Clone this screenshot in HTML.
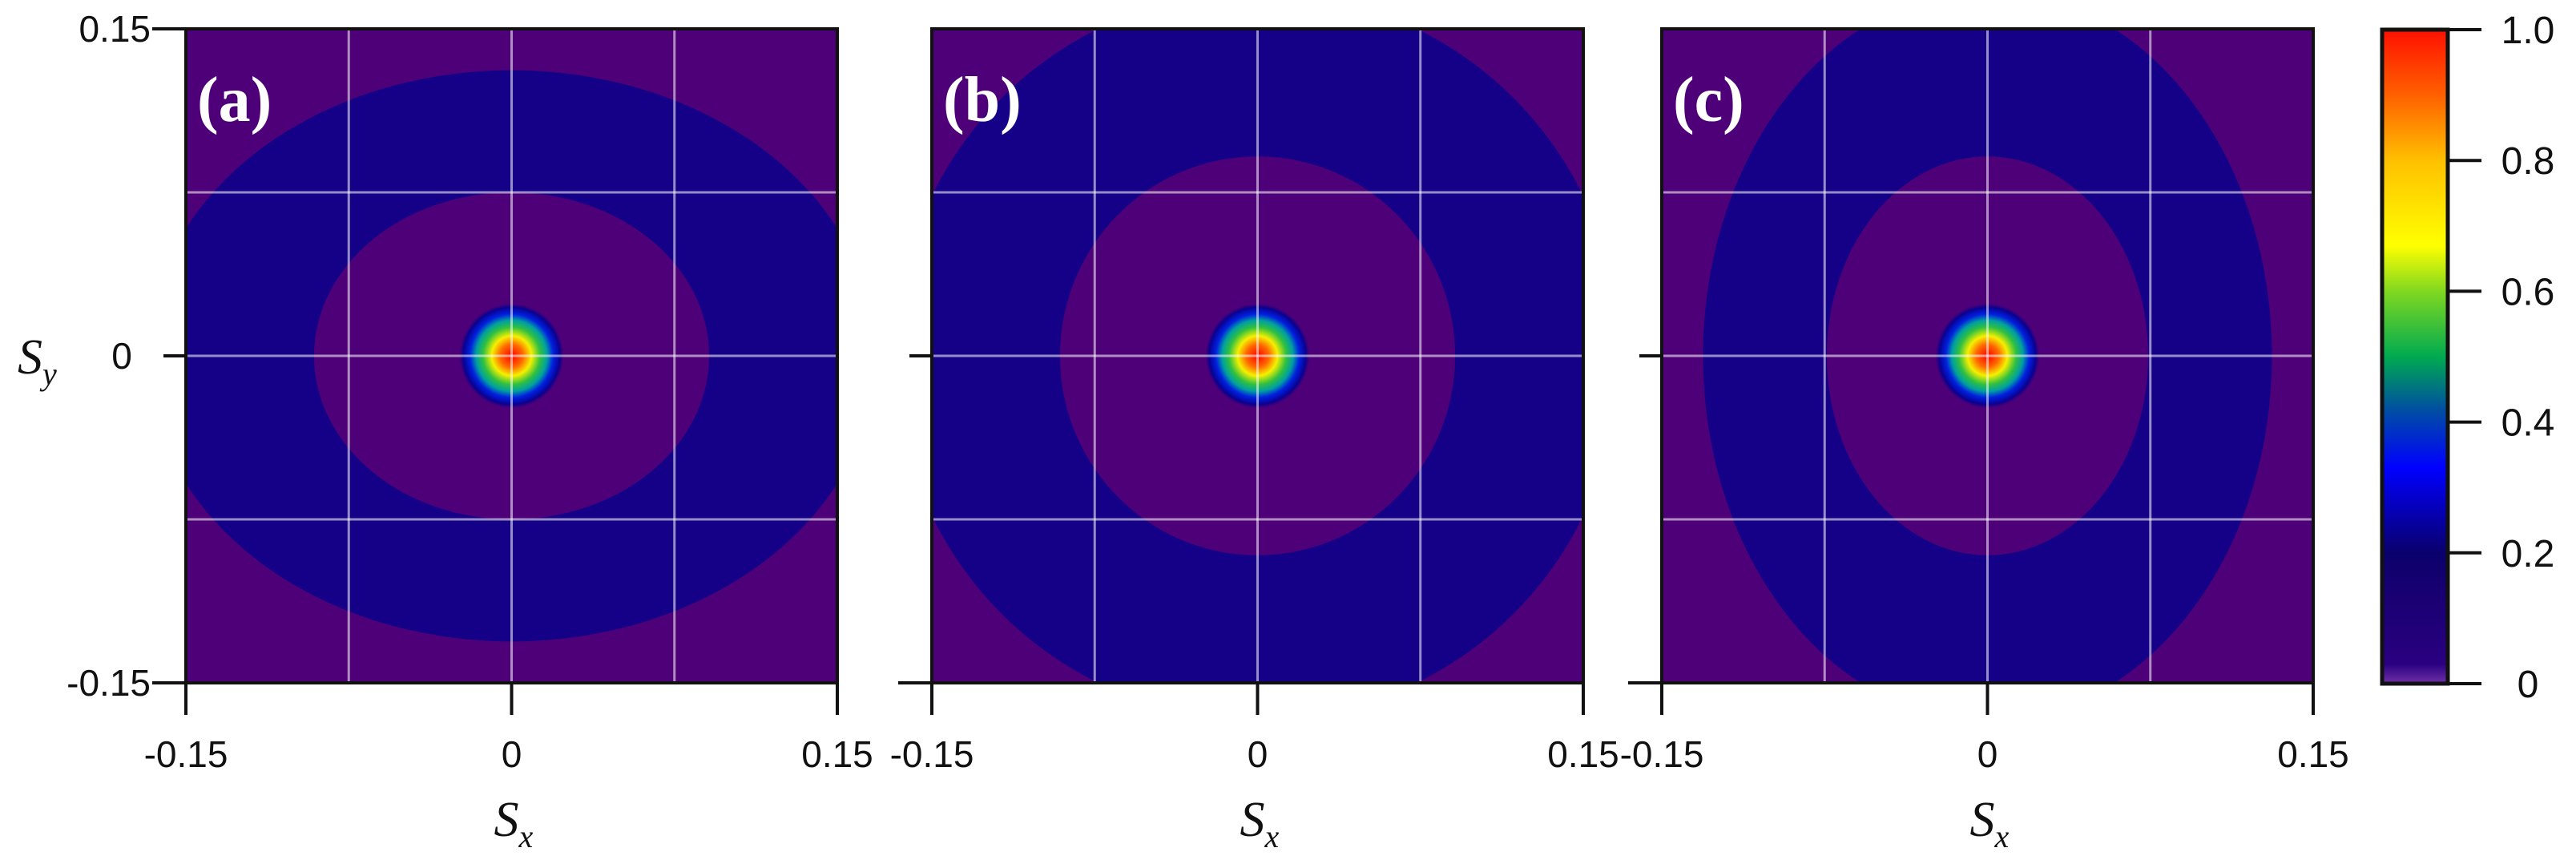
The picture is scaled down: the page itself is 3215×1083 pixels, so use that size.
<!DOCTYPE html>
<html><head><meta charset="utf-8"><style>
html,body{margin:0;padding:0;background:#fff;}
svg{display:block;}
text{font-family:"Liberation Sans",sans-serif;}
</style></head><body>
<svg id="chart" width="3215" height="1083" viewBox="0 0 3215 1083" xmlns="http://www.w3.org/2000/svg">
<defs>
<radialGradient id="spot" cx="50%" cy="50%" r="50%">
<stop offset="0" stop-color="#ff0000"/>
<stop offset="0.22" stop-color="#ff6a00"/>
<stop offset="0.38" stop-color="#f5f000"/>
<stop offset="0.55" stop-color="#30c040"/>
<stop offset="0.68" stop-color="#00a0a0"/>
<stop offset="0.8" stop-color="#0020e0"/>
<stop offset="0.93" stop-color="#0a0090"/>
<stop offset="1" stop-color="#150088" stop-opacity="0"/>
</radialGradient>
<linearGradient id="cbar" x1="0" y1="1" x2="0" y2="0">
<stop offset="0" stop-color="#7030a8"/>
<stop offset="0.03" stop-color="#2a0080"/>
<stop offset="0.15" stop-color="#160070"/>
<stop offset="0.2" stop-color="#0a006c"/>
<stop offset="0.33" stop-color="#0000ff"/>
<stop offset="0.42" stop-color="#0050a0"/>
<stop offset="0.5" stop-color="#00aa50"/>
<stop offset="0.6" stop-color="#80d820"/>
<stop offset="0.67" stop-color="#ffff00"/>
<stop offset="0.8" stop-color="#ffc000"/>
<stop offset="0.9" stop-color="#ff6000"/>
<stop offset="1" stop-color="#ff1000"/>
</linearGradient>
</defs>
</svg>
<script>
const panelLabels = ['(a)', '(b)', '(c)'];
const outerA = [0.1676, 0.167, 0.131];
const outerB = [0.131, 0.167, 0.1676];
const innerA = [0.091, 0.091, 0.074];
const innerB = [0.075, 0.0915, 0.0915];
const spotR = [0.024, 0.024, 0.024];
const gridVals = [-0.075, 0, 0.075];
const xTickLabels = ['-0.15', '0', '0.15'];
const xTickVals = [-0.15, 0, 0.15];
const yTickLabels = ['0.15', '0', '-0.15'];
const yTickVals = [0.15, 0, -0.15];
const cbarTicks = [0, 0.2, 0.4, 0.6, 0.8, 1.0];
const cbarTickLabels = ['0', '0.2', '0.4', '0.6', '0.8', '1.0'];

const NS = 'http://www.w3.org/2000/svg';
const svg = document.getElementById('chart');
const lefts = [232, 1163, 2074];
const W = 813, TOP = 36, H = 816;
function mk(tag, attrs, parent) {
  const e = document.createElementNS(NS, tag);
  for (const k in attrs) e.setAttribute(k, attrs[k]);
  (parent || svg).appendChild(e);
  return e;
}
panelLabels.forEach((lab, i) => {
  const L = lefts[i];
  const sx = v => L + (v + 0.15) / 0.3 * W;
  const sy = v => TOP + (0.15 - v) / 0.3 * H;
  const kx = d => d / 0.3 * W;
  const ky = d => d / 0.3 * H;
  const g = mk('g', {});
  
  
  const clipId = 'clip' + i;
  const cp = mk('clipPath', {id: clipId}, g);
  mk('rect', {x: L, y: TOP, width: W, height: H}, cp);
  const bg = mk('rect', {x: L, y: TOP, width: W, height: H, fill: '#4e0078'}, g);
  
  
  const outer = mk('ellipse', {cx: sx(0), cy: sy(0), rx: kx(outerA[i]), ry: ky(outerB[i]), fill: '#150088', 'clip-path': 'url(#' + clipId + ')'}, g);
  
  
  const inner = mk('ellipse', {cx: sx(0), cy: sy(0), rx: kx(innerA[i]), ry: ky(innerB[i]), fill: '#4e0078'}, g);
  
  
  const spot = mk('ellipse', {cx: sx(0), cy: sy(0), rx: kx(spotR[i]), ry: ky(spotR[i]), fill: 'url(#spot)'}, g);
  
  
  gridVals.forEach(v => {
    const gl = mk('line', {x1: sx(v), x2: sx(v), y1: TOP, y2: TOP + H, stroke: 'rgba(255,255,255,0.55)', 'stroke-width': 3}, g);
    
    
    const gh = mk('line', {x1: L, x2: L + W, y1: sy(v), y2: sy(v), stroke: 'rgba(255,255,255,0.55)', 'stroke-width': 3}, g);
    
    
  });
  const fr = mk('rect', {x: L, y: TOP, width: W, height: H, fill: 'none', stroke: '#111', 'stroke-width': 4}, g);
  
  
  const pl = mk('text', {x: L + 14, y: TOP + 115, fill: '#fff', 'font-size': 80, 'font-weight': 'bold', style: 'font-family:"Liberation Serif",serif'}, g);
  pl.textContent = lab;
  
  
  xTickVals.forEach((v, j) => {
    const t = mk('line', {x1: sx(v), x2: sx(v), y1: TOP + H, y2: TOP + H + 40, stroke: '#111', 'stroke-width': 4}, g);
    
    
    const tl = mk('text', {x: sx(v), y: 957, 'font-size': 46, 'text-anchor': 'middle', fill: '#111'}, g);
    tl.textContent = xTickLabels[j];
    
    
  });
  yTickVals.forEach((v, j) => {
    if (i > 0 && v === 0.15) return;
    const len = (v === 0) ? 28 : 42;
    const t = mk('line', {x1: L - len, x2: L, y1: sy(v), y2: sy(v), stroke: '#111', 'stroke-width': 4}, g);
    
    
    if (i === 0) {
      const tx = v === 0 ? 152 : 188;
      const tl = mk('text', {x: tx, y: sy(v) + 16, 'font-size': 46, 'text-anchor': v === 0 ? 'middle' : 'end', fill: '#111'}, g);
      tl.textContent = yTickLabels[j];
      
      
    }
  });
  const xt = mk('text', {x: sx(0) - 22, y: 1043, 'font-size': 62, fill: '#111', 'font-style': 'italic', style: 'font-family:"Liberation Serif",serif'}, g);
  xt.innerHTML = 'S<tspan font-size="40" dy="14">x</tspan>';
  
  
});
const yt = mk('text', {x: 22, y: 466, 'font-size': 62, fill: '#111', 'font-style': 'italic', style: 'font-family:"Liberation Serif",serif'});
yt.innerHTML = 'S<tspan font-size="40" dy="14">y</tspan>';



// colorbar
const CB = {x: 2973, w: 82, top: 37, bot: 853};
const cy = v => CB.bot - v * (CB.bot - CB.top);
const cb = mk('rect', {x: CB.x, y: CB.top, width: CB.w, height: CB.bot - CB.top, fill: 'url(#cbar)', stroke: '#111', 'stroke-width': 5});


cbarTicks.forEach((v, j) => {
  const t = mk('line', {x1: CB.x + CB.w, x2: CB.x + CB.w + 42, y1: cy(v), y2: cy(v), stroke: '#111', 'stroke-width': 4});
  
  
  const tl = mk('text', {x: 3155, y: cy(v) + 17, 'font-size': 48, 'text-anchor': 'middle', fill: '#111'});
  tl.textContent = cbarTickLabels[j];
  
  
});
</script>
</body></html>
